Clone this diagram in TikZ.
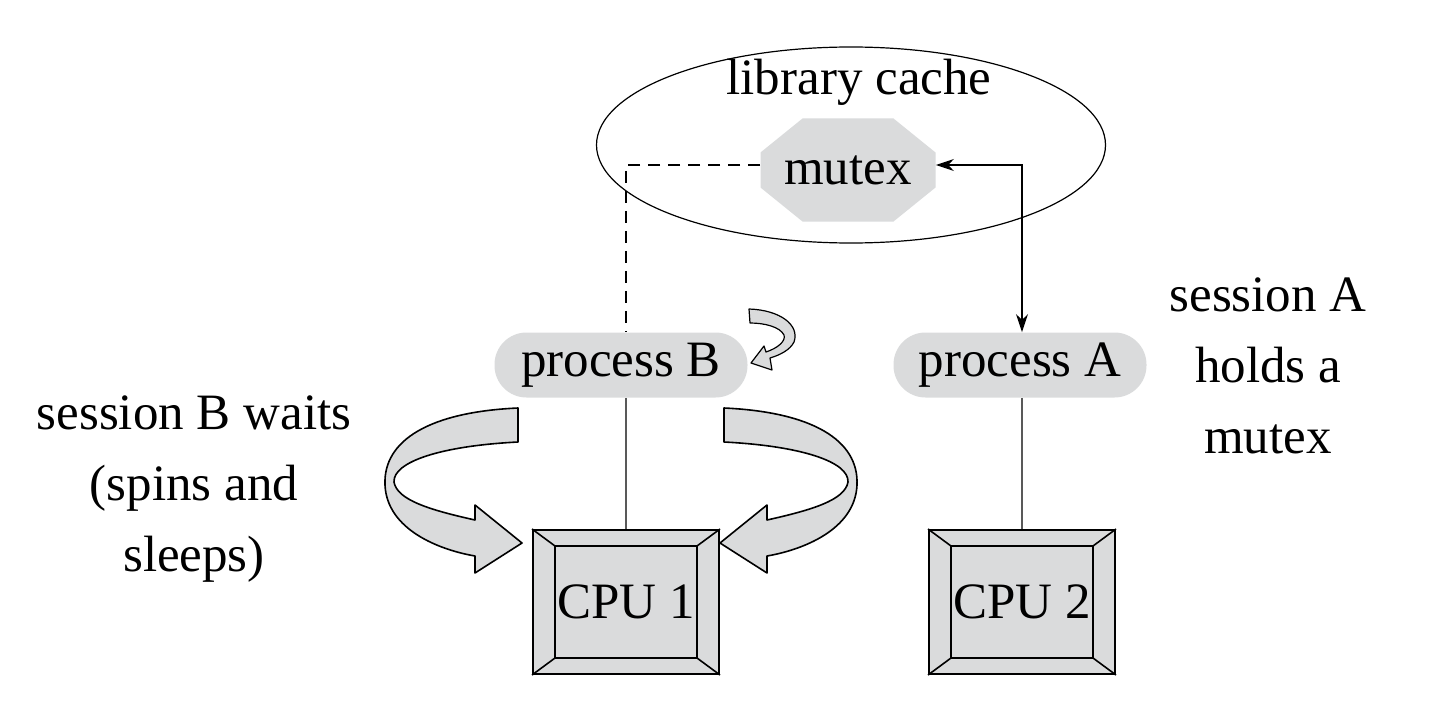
\documentclass[tikz,border=0pt]{standalone}
\usepackage{fontspec}
\setmainfont{Liberation Serif}
\usetikzlibrary{shapes.geometric,arrows.meta}

\definecolor{boxgray}{RGB}{218,219,220}

\begin{document}
\begin{tikzpicture}[x=0.5pt,y=-0.5pt,
  font=\fontsize{25.5}{35.5}\selectfont,
  proc/.style={fill=boxgray, rounded corners=16pt, minimum width=126.5pt,
    minimum height=32.5pt, inner sep=0pt},
  lock/.style={fill=white, minimum width=87.5pt, minimum height=51.5pt, inner sep=0pt,
    path picture={\fill[boxgray]
      ([xshift=21pt]path picture bounding box.north west)
      -- ([xshift=-21pt]path picture bounding box.north east)
      -- ([yshift=-17pt]path picture bounding box.north east)
      -- ([yshift=17pt]path picture bounding box.south east)
      -- ([xshift=-21pt]path picture bounding box.south east)
      -- ([xshift=21pt]path picture bounding box.south west)
      -- ([yshift=17pt]path picture bounding box.south west)
      -- ([yshift=-17pt]path picture bounding box.north west) -- cycle;}},
  cpubox/.style={draw, line width=1pt, fill=boxgray, minimum width=93pt,
    minimum height=72pt, inner sep=0pt},
  turn/.style={draw, line width=0.8pt, fill=boxgray, line join=round},
  wire/.style={draw=black!65, line width=0.7pt}]
\useasboundingbox (0,0) rectangle (1440,706);

% library cache with the mutex
\node (cache) [draw, ellipse, line width=0.6pt, minimum width=254.5pt,
  minimum height=98pt] at (851,145) {};
\node (cachetext) at (859,82) {library cache};
\node (mutex) [lock] at (848,170) {mutex};

% processes and cpus
\node (procB) [proc] at (621,365) {process B};
\node (procA) [proc] at (1020,365) {process A};
\node (cpu1) [cpubox] at (626,602) {CPU 1};
\node (cpu2) [cpubox] at (1022,602) {CPU 2};

\foreach \c in {cpu1,cpu2} {
  \draw[line width=0.8pt] ([shift={(11.5pt,-8.5pt)}]\c.north west)
    rectangle ([shift={(-11.5pt,8.5pt)}]\c.south east);
  \draw[line width=0.8pt] (\c.north west) -- ++(11.5pt,-8.5pt);
  \draw[line width=0.8pt] (\c.north east) -- ++(-11.5pt,-8.5pt);
  \draw[line width=0.8pt] (\c.south west) -- ++(11.5pt,8.5pt);
  \draw[line width=0.8pt] (\c.south east) -- ++(-11.5pt,8.5pt);
}

\draw[wire] (cpu1.north |- procB.south) -- (cpu1.north);
\draw[wire] (cpu2.north |- procA.south) -- (cpu2.north);

% who holds and who waits
\draw[line width=0.7pt, dash pattern=on 6pt off 4pt]
  ([yshift=2.5pt]mutex.west) -| (cpu1.north |- procB.north);
\draw[line width=0.9pt, {Stealth[length=9pt,width=6pt]}-{Stealth[length=9pt,width=6pt]}]
  ([yshift=2.5pt]mutex.east) -| (cpu2.north |- procA.north);

% spinning arrows round cpu 1
\draw[turn] (518,408) .. controls (430,412) and (383,440) .. (385,485)
  .. controls (387,530) and (440,550) .. (475,556) -- (475,573) -- (522,543)
  -- (475,505) -- (475,520) .. controls (430,510) and (397,500) .. (394,482)
  .. controls (393,462) and (440,446) .. (518,442) -- cycle;
\begin{scope}[shift={(1242,0)}, xscale=-1]
\draw[turn] (518,408) .. controls (430,412) and (383,440) .. (385,485)
  .. controls (387,530) and (440,550) .. (475,556) -- (475,573) -- (522,543)
  -- (475,505) -- (475,520) .. controls (430,510) and (397,500) .. (394,482)
  .. controls (393,462) and (440,446) .. (518,442) -- cycle;
\end{scope}
\draw[turn, line width=0.6pt] (749,309) .. controls (780,310) and (800,325) .. (794,342)
  .. controls (790,350) and (780,355) .. (770,358) -- (772,370) -- (751,363)
  -- (764,346) -- (766,352) .. controls (778,348) and (786,341) .. (784,335)
  .. controls (780,327) and (765,323) .. (750,323) -- cycle;

% notes
\node (waitB) [align=center] at (194,489) {session B waits\\(spins and\\sleeps)};
\node (holdA) [align=center] at (1268,366) {session A\\holds a\\mutex};
\end{tikzpicture}
\end{document}
